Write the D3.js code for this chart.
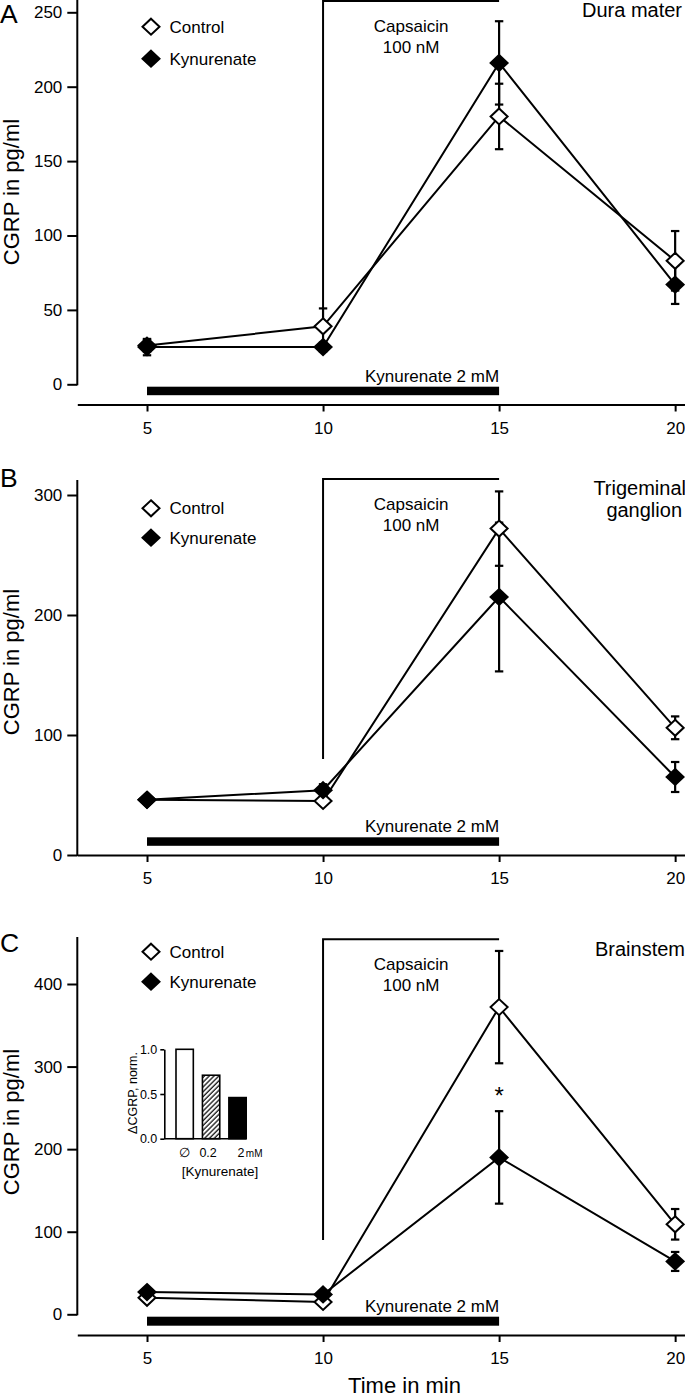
<!DOCTYPE html>
<html>
<head>
<meta charset="utf-8">
<script src="https://cdn.jsdelivr.net/npm/d3@7"></script>
<style>
  html, body { margin: 0; padding: 0; background: #fff; }
  svg { display: block; }
  text { font-family: "Liberation Sans", Arial, Helvetica, sans-serif; fill: #000; }
</style>
</head>
<body>
<script>
// ---------------- DATA ----------------
const times = [5, 10, 15, 20];
const xTickValues = [5, 10, 15, 20];

const panelLetters = ["A", "B", "C"];
const regionTitles = [["Dura mater"], ["Trigeminal", "ganglion"], ["Brainstem"]];
const seriesNames = ["Control", "Kynurenate"];

// Panel A – Dura mater
const controlA    = [26, 39, 180, 83];
const controlAErr = [4, 12, 22, 20];
const kynA        = [25, 25, 216, 67];
const kynAErr     = [5.5, 3, 28, 13];
const yTicksA     = [0, 50, 100, 150, 200, 250];

// Panel B – Trigeminal ganglion
const controlB    = [46, 45, 272, 106];
const controlBErr = [2, 3, 31, 9.5];
const kynB        = [46, 54, 215, 65];
const kynBErr     = [2, 5, 62, 12.5];
const yTicksB     = [0, 100, 200, 300];

// Panel C – Brainstem
const controlC    = [20, 15, 372, 109];
const controlCErr = [3, 3, 68, 18.5];
const kynC        = [27, 24, 190, 64];
const kynCErr     = [3, 3, 56, 11.5];
const yTicksC     = [0, 100, 200, 300, 400];

// Application periods (min) and the capsaicin marker's lower end (pg/ml)
const capsaicinPeriod = [10, 15];
const kynurenatePeriod = [5, 15];
const capsaicinLineBottom = [51, 80, 90];
const capsaicinLabel = ["Capsaicin", "100 nM"];
const kynurenateLabel = "Kynurenate 2 mM";
const yAxisTitle = "CGRP in pg/ml";
const xAxisTitle = "Time in min";
const significanceMark = "*";   // panel C, t = 15

// Inset (panel C)
const insetCategories = ["∅", "0.2", "2"];
const insetValues     = [1.0, 0.71, 0.46];
const insetTicks      = [0, 0.5, 1.0];
const insetYTitle     = "ΔCGRP, norm.";
const insetXTitle     = "[Kynurenate]";
const insetUnit       = "mM";

// ---------------- LAYOUT ----------------
const W = 685, H = 1397;
const FONT = 17;
const layout = [
  { y0: 384.3, topTick: 250, topTickPx: 12.3, axisTop: 0,     xAxisY: 404.5, barTop: 386.7, barH: 8.5,
    bracketY: 1,     legendY: [26.7, 58.7],   titleLines: [[17, 682]],               letterY: 22.5, yTitleC: 192 },
  { y0: 855,   topTick: 300, topTickPx: 495,  axisTop: 480,   xAxisY: 855,   barTop: 837.3, barH: 8.5,
    bracketY: 479,   legendY: [508.3, 537.7], titleLines: [[495, 686], [517, 682]], letterY: 487, yTitleC: 662 },
  { y0: 1314.3, topTick: 400, topTickPx: 984, axisTop: 937,   xAxisY: 1335,  barTop: 1316.7, barH: 9,
    bracketY: 939.3, legendY: [951.7, 981.7], titleLines: [[956, 685]],             letterY: 952, yTitleC: 1122 }
];

const panelData = [
  { control: controlA, controlErr: controlAErr, kyn: kynA, kynErr: kynAErr, yTicks: yTicksA },
  { control: controlB, controlErr: controlBErr, kyn: kynB, kynErr: kynBErr, yTicks: yTicksB },
  { control: controlC, controlErr: controlCErr, kyn: kynC, kynErr: kynCErr, yTicks: yTicksC }
];

const svg = d3.select("body").append("svg")
  .attr("width", W).attr("height", H)
  .attr("viewBox", `0 0 ${W} ${H}`);

// hatch pattern for inset
const defs = svg.append("defs");
defs.append("pattern")
  .attr("id", "hatch")
  .attr("patternUnits", "userSpaceOnUse")
  .attr("width", 3.4).attr("height", 10)
  .attr("patternTransform", "rotate(45)")
  .append("line")
  .attr("x1", 1).attr("y1", 0).attr("x2", 1).attr("y2", 10)
  .attr("stroke", "#000").attr("stroke-width", 1.2);

const x = d3.scaleLinear().domain([3.02, 20.28]).range([77.3, 685]);

const diamondW = 8.5, diamondH = 8;
const diamondPath = `M0,${-diamondH}L${diamondW},0L0,${diamondH}L${-diamondW},0Z`;

function drawDiamond(g, cx, cy, filled) {
  g.append("path")
    .attr("d", diamondPath)
    .attr("transform", `translate(${cx},${cy})`)
    .attr("fill", filled ? "#000" : "#fff")
    .attr("stroke", "#000")
    .attr("stroke-width", 2)
    .attr("stroke-linejoin", "miter");
}

panelData.forEach((pd, i) => {
  const L = layout[i];
  const g = svg.append("g");
  const y = d3.scaleLinear().domain([0, L.topTick]).range([L.y0, L.topTickPx]);

  // y axis
  const yAx = g.append("g").attr("transform", `translate(${x.range()[0]},0)`)
    .call(d3.axisLeft(y).tickValues(pd.yTicks).tickSize(10).tickPadding(5).tickSizeOuter(0));
  yAx.select(".domain").remove();
  yAx.selectAll(".tick line").attr("stroke", "#000").attr("stroke-width", 2);
  yAx.selectAll(".tick text").attr("font-size", FONT).attr("font-family", "Liberation Sans, Arial, sans-serif");
  g.append("line")
    .attr("x1", x.range()[0]).attr("x2", x.range()[0])
    .attr("y1", L.axisTop).attr("y2", L.y0 + 1)
    .attr("stroke", "#000").attr("stroke-width", 2);

  // x axis
  const xAx = g.append("g").attr("transform", `translate(0,${L.xAxisY})`)
    .call(d3.axisBottom(x).tickValues(xTickValues).tickSize(7).tickPadding(10).tickSizeOuter(0));
  xAx.select(".domain").attr("stroke", "#000").attr("stroke-width", 2);
  xAx.selectAll(".tick line").attr("stroke", "#000").attr("stroke-width", 2);
  xAx.selectAll(".tick text").attr("font-size", FONT).attr("font-family", "Liberation Sans, Arial, sans-serif");

  // y axis title
  g.append("text")
    .attr("transform", `translate(19,${L.yTitleC}) rotate(-90)`)
    .attr("text-anchor", "middle")
    .attr("font-size", 22)
    .text(yAxisTitle);

  // panel letter
  g.append("text").attr("x", 0).attr("y", L.letterY)
    .attr("font-size", 26.5).text(panelLetters[i]);

  // region title
  regionTitles[i].forEach((t, k) => {
    g.append("text")
      .attr("x", L.titleLines[k][1]).attr("y", L.titleLines[k][0])
      .attr("text-anchor", "end").attr("font-size", 20).text(t);
  });

  // capsaicin bracket
  g.append("path")
    .attr("d", `M${x(capsaicinPeriod[0])},${y(capsaicinLineBottom[i])}V${L.bracketY}H${x(capsaicinPeriod[1])}`)
    .attr("fill", "none").attr("stroke", "#000").attr("stroke-width", 2);
  const capX = (x(capsaicinPeriod[0]) + x(capsaicinPeriod[1])) / 2;
  capsaicinLabel.forEach((t, k) => {
    g.append("text").attr("x", capX).attr("y", L.bracketY + 31 + k * 20.5)
      .attr("text-anchor", "middle").attr("font-size", FONT).text(t);
  });

  // kynurenate bar
  g.append("rect")
    .attr("x", x(kynurenatePeriod[0])).attr("width", x(kynurenatePeriod[1]) - x(kynurenatePeriod[0]))
    .attr("y", L.barTop).attr("height", L.barH).attr("fill", "#000");
  g.append("text").attr("x", x(kynurenatePeriod[1])).attr("y", L.barTop - 5)
    .attr("text-anchor", "end").attr("font-size", FONT).text(kynurenateLabel);

  // legend
  seriesNames.forEach((s, k) => {
    drawDiamond(g, 151, L.legendY[k], k === 1);
    g.append("text").attr("x", 169.5).attr("y", L.legendY[k] + 6)
      .attr("font-size", FONT).text(s);
  });

  // series
  const series = [
    { v: pd.control, e: pd.controlErr, filled: false },
    { v: pd.kyn, e: pd.kynErr, filled: true }
  ];
  const line = d3.line().x((d, j) => x(times[j])).y(d => y(d));
  series.forEach(s => {
    g.append("path").attr("d", line(s.v))
      .attr("fill", "none").attr("stroke", "#000").attr("stroke-width", 2);
  });
  series.forEach(s => {
    s.v.forEach((v, j) => {
      const cx = x(times[j]);
      const yt = y(v + s.e[j]), yb = y(v - s.e[j]);
      g.append("line").attr("x1", cx).attr("x2", cx).attr("y1", yt).attr("y2", yb)
        .attr("stroke", "#000").attr("stroke-width", 2.2);
      [yt, yb].forEach(yy => {
        g.append("line").attr("x1", cx - 4.2).attr("x2", cx + 4.2).attr("y1", yy).attr("y2", yy)
          .attr("stroke", "#000").attr("stroke-width", 2.2);
      });
    });
  });
  series.forEach(s => {
    s.v.forEach((v, j) => drawDiamond(g, x(times[j]), y(v), s.filled));
  });

  if (i === 2) {
    // significance
    const j = times.indexOf(15);
    g.append("text").attr("x", x(15)).attr("y", y(pd.kyn[j] + pd.kynErr[j]) - 7)
      .attr("text-anchor", "middle").attr("font-size", 24).text(significanceMark);

    // x axis title
    g.append("text").attr("x", 404.5).attr("y", 1393)
      .attr("text-anchor", "middle").attr("font-size", 22).text(xAxisTitle);

    // inset
    const ig = svg.append("g");
    const iy = d3.scaleLinear().domain([0, 1]).range([1138.7, 1049.3]);
    const ix = d3.scaleBand().domain(insetCategories).range([171.5, 250.7])
      .paddingInner(0.345).paddingOuter(0.17);
    const axX = 164.3;
    const iyAx = ig.append("g").attr("transform", `translate(${axX},0)`)
      .call(d3.axisLeft(iy).tickValues(insetTicks).tickFormat(d3.format(".1f")).tickSize(4).tickPadding(3).tickSizeOuter(0));
    iyAx.select(".domain").attr("stroke", "#000").attr("stroke-width", 1.6);
    iyAx.selectAll(".tick line").attr("stroke", "#000").attr("stroke-width", 1.6);
    iyAx.selectAll(".tick text").attr("font-size", 12.5).attr("font-family", "Liberation Sans, Arial, sans-serif");

    ig.selectAll("rect.bar").data(insetValues).join("rect")
      .attr("class", "bar")
      .attr("x", (d, k) => ix(insetCategories[k]))
      .attr("width", ix.bandwidth())
      .attr("y", d => iy(d))
      .attr("height", d => iy(0) - iy(d))
      .attr("fill", (d, k) => k === 0 ? "#fff" : (k === 1 ? "url(#hatch)" : "#000"))
      .attr("stroke", "#000").attr("stroke-width", 1.6);

    ig.append("line")
      .attr("x1", axX).attr("x2", ix(insetCategories[2]) + ix.bandwidth())
      .attr("y1", iy(0)).attr("y2", iy(0))
      .attr("stroke", "#000").attr("stroke-width", 1.6);

    // category labels
    ig.append("text").attr("x", ix(insetCategories[0]) + ix.bandwidth() / 2).attr("y", 1157)
      .attr("text-anchor", "middle").attr("font-size", 12.5).attr("font-family", "DejaVu Sans").text(insetCategories[0]);
    ig.append("text").attr("x", ix(insetCategories[1]) + ix.bandwidth() / 2 - 3).attr("y", 1157)
      .attr("text-anchor", "middle").attr("font-size", 12.5).text(insetCategories[1]);
    const t3 = ig.append("text").attr("x", ix(insetCategories[2]) + 8.5).attr("y", 1157)
      .attr("font-size", 12.5);
    t3.append("tspan").text(insetCategories[2]);
    t3.append("tspan").attr("font-size", 10).attr("dx", 1.5).text(insetUnit);

    ig.append("text").attr("x", 220).attr("y", 1176)
      .attr("text-anchor", "middle").attr("font-size", 13.5).text(insetXTitle);
    ig.append("text")
      .attr("transform", `translate(137,1093) rotate(-90)`)
      .attr("text-anchor", "middle").attr("font-size", 12.5).text(insetYTitle);
  }
});
</script>
</body>
</html>
